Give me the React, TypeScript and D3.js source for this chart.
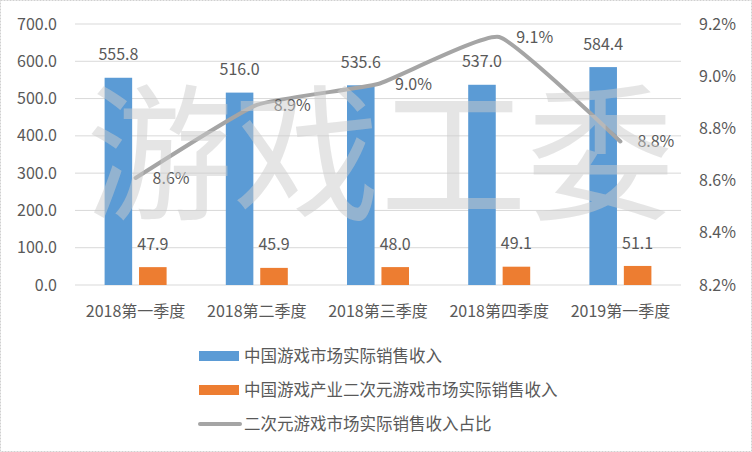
import React from "react";
import * as d3 from "d3";

const categories = ["2018第一季度", "2018第二季度", "2018第三季度", "2018第四季度", "2019第一季度"];
const marketRevenue = [555.8, 516.0, 535.6, 537.0, 584.4];
const acgRevenue = [47.9, 45.9, 48.0, 49.1, 51.1];
const acgShare = [8.61, 8.89, 8.97, 9.15, 8.75];
const shareLabels = ["8.6%", "8.9%", "9.0%", "9.1%", "8.8%"];
const leftTicks = [0, 100, 200, 300, 400, 500, 600, 700];
const rightTicks = [8.2, 8.4, 8.6, 8.8, 9.0, 9.2];
const seriesNames = [
  "中国游戏市场实际销售收入",
  "中国游戏产业二次元游戏市场实际销售收入",
  "二次元游戏市场实际销售收入占比",
];

const width = 752;
const height = 452;
const margin = { top: 24, right: 71, bottom: 167, left: 75 };
const font = "'Noto Sans CJK SC', 'Noto Sans', sans-serif";
const textColor = "#595959";
const blue = "#5B9BD5";
const orange = "#ED7D31";
const gray = "#A5A5A5";

const App: React.FC = () => {
  const x0 = d3
    .scaleBand()
    .domain(categories)
    .range([margin.left, width - margin.right]);

  const half = 31;
  const x1 = d3
    .scaleBand()
    .domain(["market", "acg"])
    .range([x0.bandwidth() / 2 - half, x0.bandwidth() / 2 + half])
    .paddingInner(0.2);

  const y = d3
    .scaleLinear()
    .domain([0, 700])
    .range([height - margin.bottom, margin.top]);

  const yRight = d3
    .scaleLinear()
    .domain([8.2, 9.2])
    .range([height - margin.bottom, margin.top]);

  const cx = (c: string) => x0(c)! + x0.bandwidth() / 2;

  // Excel-style smoothing, kept gentle so the peak stays pointed
  const line = d3
    .line<number>()
    .x((_, i) => cx(categories[i]))
    .y((d) => yRight(d))
    .curve(d3.curveCardinal.tension(0.6));

  return (
    <svg
      width={width}
      height={height}
      style={{ position: "absolute", left: 0, top: 0, background: "#fff" }}
      fontFamily={font}
    >
      <rect x={0.5} y={0.5} width={width - 1} height={height - 1} fill="#fff" stroke="#d0d0d0" strokeDasharray="2,1" />

      {/* gridlines */}
      {leftTicks.map((t) => (
        <line key={t} x1={margin.left} x2={width - margin.right} y1={y(t)} y2={y(t)} stroke="#d9d9d9" strokeWidth={1} />
      ))}

      {/* left axis labels */}
      {leftTicks.map((t) => (
        <text key={t} x={57} y={y(t)} dy="0.35em" textAnchor="end" fontSize={16} fill={textColor}>
          {t.toFixed(1)}
        </text>
      ))}

      {/* right axis labels */}
      {rightTicks.map((t) => (
        <text key={t} x={699} y={yRight(t)} dy="0.35em" textAnchor="start" fontSize={16} fill={textColor}>
          {t.toFixed(1)}%
        </text>
      ))}

      {/* bars */}
      {categories.map((c, i) => (
        <g key={c} transform={`translate(${x0(c)},0)`}>
          <rect x={x1("market")} y={y(marketRevenue[i])} width={x1.bandwidth()} height={y(0) - y(marketRevenue[i])} fill={blue} />
          <rect x={x1("acg")} y={y(acgRevenue[i])} width={x1.bandwidth()} height={y(0) - y(acgRevenue[i])} fill={orange} />
          <text x={x1("market")! + x1.bandwidth() / 2} y={y(marketRevenue[i]) - 23} dy="0.35em" textAnchor="middle" fontSize={16} fill={textColor}>
            {marketRevenue[i].toFixed(1)}
          </text>
          <text x={x1("acg")! + x1.bandwidth() / 2} y={y(acgRevenue[i]) - 23} dy="0.35em" textAnchor="middle" fontSize={16} fill={textColor}>
            {acgRevenue[i].toFixed(1)}
          </text>
        </g>
      ))}

      {/* share line */}
      <path d={line(acgShare)!} fill="none" stroke={gray} strokeWidth={4} strokeLinecap="round" strokeLinejoin="round" />
      {acgShare.map((v, i) => (
        <text key={i} x={cx(categories[i]) + 17} y={yRight(v)} dy="0.35em" textAnchor="start" fontSize={16} fill={textColor}>
          {shareLabels[i]}
        </text>
      ))}

      {/* x labels */}
      {categories.map((c) => (
        <text key={c} x={cx(c)} y={311} dy="0.35em" textAnchor="middle" fontSize={16} fill={textColor}>
          {c}
        </text>
      ))}

      {/* watermark */}
      <text x={380} y={157} dy="0.35em" textAnchor="middle" fontSize={147} fill="#cccccc" fillOpacity={0.5}>
        游戏工委
      </text>

      {/* legend */}
      <g>
        <rect x={199} y={351} width={40} height={10} fill={blue} />
        <text x={244} y={356} dy="0.35em" fontSize={16.5} fill={textColor}>{seriesNames[0]}</text>
        <rect x={199} y={385} width={40} height={10} fill={orange} />
        <text x={244} y={390} dy="0.35em" fontSize={16.5} fill={textColor}>{seriesNames[1]}</text>
        <line x1={200} x2={240} y1={424} y2={424} stroke={gray} strokeWidth={4} strokeLinecap="round" />
        <text x={244} y={424} dy="0.35em" fontSize={16.5} fill={textColor}>{seriesNames[2]}</text>
      </g>
    </svg>
  );
};

export default App;
